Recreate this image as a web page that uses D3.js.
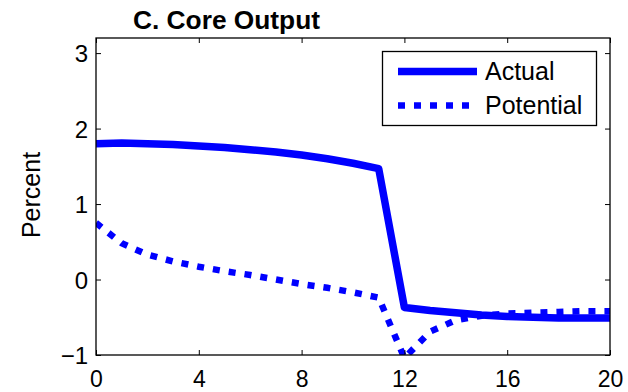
<!DOCTYPE html>
<html>
<head>
<meta charset="utf-8">
<script src="https://cdn.jsdelivr.net/npm/d3@7"></script>
<style>
  html, body { margin: 0; padding: 0; background: #fff; }
  svg { display: block; }
  text { font-family: "Liberation Sans", Arial, sans-serif; fill: #000; }
</style>
</head>
<body>
<svg id="chart" width="628" height="392"></svg>
<script>
const quarters = [0,1,2,3,4,5,6,7,8,9,10,11,12,13,14,15,16,17,18,19,20];
const actual = [1.80,1.81,1.80,1.79,1.77,1.75,1.72,1.69,1.65,1.60,1.54,1.47,-0.37,-0.41,-0.44,-0.47,-0.49,-0.50,-0.51,-0.51,-0.51];
const potential = [0.75,0.48,0.33,0.24,0.17,0.11,0.06,0.00,-0.06,-0.11,-0.17,-0.24,-1.04,-0.69,-0.54,-0.48,-0.45,-0.44,-0.43,-0.42,-0.42];
const xTicks = [0,4,8,12,16,20];
const yTicks = [-1,0,1,2,3];
const seriesNames = ["Actual","Potential"];
const titleText = "C. Core Output";
const yLabel = "Percent";

const svg = d3.select("#chart");
const L = 96, R = 610, T = 38, B = 355;
const x = d3.scaleLinear().domain([0,20]).range([L,R]);
const y = d3.scaleLinear().domain([-1,3.2]).range([B,T]);

svg.append("defs").append("clipPath").attr("id","clip")
  .append("rect").attr("x",L).attr("y",T).attr("width",R-L).attr("height",B-T);

const line = d3.line().x((d,i)=>x(quarters[i])).y(d=>y(d));
const blue = "#0000ff";

const g = svg.append("g").attr("clip-path","url(#clip)");
g.append("path").datum(actual).attr("d",line)
  .attr("fill","none").attr("stroke",blue).attr("stroke-width",7.5)
  .attr("stroke-linejoin","round");
g.append("path").datum(potential).attr("d",line)
  .attr("fill","none").attr("stroke",blue).attr("stroke-width",6.5)
  .attr("stroke-dasharray","7,9");

// axes (ticks inward, box on)
const tick = 5;
const axB = svg.append("g").attr("transform",`translate(0,${B})`)
  .call(d3.axisBottom(x).tickValues(xTicks).tickSize(-tick).tickFormat(d3.format("d")));
const axT = svg.append("g").attr("transform",`translate(0,${T})`)
  .call(d3.axisTop(x).tickValues(xTicks).tickSize(-tick).tickFormat(""));
const axL = svg.append("g").attr("transform",`translate(${L},0)`)
  .call(d3.axisLeft(y).tickValues(yTicks).tickSize(-tick).tickPadding(8)
    .tickFormat(d => d < 0 ? "\u2212" + Math.abs(d) : d));
const axR = svg.append("g").attr("transform",`translate(${R},0)`)
  .call(d3.axisRight(y).tickValues(yTicks).tickSize(-tick).tickFormat(""));
[axB,axT,axL,axR].forEach(a=>{
  a.selectAll(".domain").remove();
  a.selectAll(".tick line").attr("stroke","#000").attr("stroke-width",1);
  a.selectAll("text").attr("font-size",24).attr("font-family","Liberation Sans, Arial, sans-serif").attr("fill","#000");
});
axB.selectAll("text").attr("dy",null).attr("y",32).attr("font-size",23);
axL.selectAll("text").attr("dy","0.36em");

svg.append("rect").attr("x",L).attr("y",T).attr("width",R-L).attr("height",B-T)
  .attr("fill","none").attr("stroke","#000").attr("stroke-width",1.3);

// title
svg.append("text").attr("x",133).attr("y",29).attr("font-size",25).attr("font-weight","bold")
  .attr("textLength",187).attr("lengthAdjust","spacingAndGlyphs").text(titleText);

// y label
svg.append("text").attr("transform","translate(40,195) rotate(-90)")
  .attr("text-anchor","middle").attr("font-size",25).text(yLabel);

// legend
const lg = svg.append("g");
lg.append("rect").attr("x",382.5).attr("y",51.5).attr("width",214).attr("height",74)
  .attr("fill","#fff").attr("stroke","#000").attr("stroke-width",1.3);
lg.append("line").attr("x1",398).attr("x2",477).attr("y1",71.5).attr("y2",71.5)
  .attr("stroke",blue).attr("stroke-width",7.5);
lg.append("line").attr("x1",398).attr("x2",477).attr("y1",105.5).attr("y2",105.5)
  .attr("stroke",blue).attr("stroke-width",6.5).attr("stroke-dasharray","7,9");
lg.append("text").attr("x",485).attr("y",80).attr("font-size",25).text(seriesNames[0]);
lg.append("text").attr("x",485).attr("y",114).attr("font-size",25).text(seriesNames[1]);
</script>
</body>
</html>
